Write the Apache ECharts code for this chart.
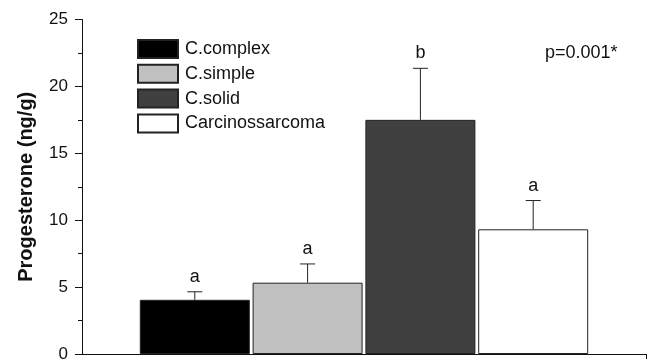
<!DOCTYPE html>
<html>
<head>
<meta charset="utf-8">
<script src="https://cdn.jsdelivr.net/npm/echarts@6/dist/echarts.min.js"></script>
<style>
    html, body { margin: 0; padding: 0; background: #fff; }
    #chart { width: 661px; height: 361px; }
</style>
</head>
<body>
<div id="chart"></div>
<script>
    // data
    var categories = ['C.complex', 'C.simple', 'C.solid', 'Carcinossarcoma'];
    var means = [4.05, 5.33, 17.5, 9.32];
    var errors = [0.6, 1.4, 3.85, 2.15];
    var letters = ['a', 'a', 'b', 'a'];
    var colors = ['#000000', '#c0c0c0', '#404040', '#ffffff'];
    var yTicks = [0, 5, 10, 15, 20, 25];
    var pText = 'p=0.001*';

    var FONT = "'Liberation Sans', Arial, sans-serif";

    var chart = echarts.init(document.getElementById('chart'));

    // one bar series per group so the legend gets an entry each
    var barSeries = categories.map(function (name, i) {
        return {
            name: name,
            type: 'bar',
            barWidth: 110,
            barGap: '-100%',
            data: [[i + 1, means[i]]],
            itemStyle: {
                color: colors[i],
                borderColor: '#222',
                borderWidth: 1
            },
            emphasis: { disabled: true }
        };
    });

    // error bars + significance letters
    var errSeries = {
        type: 'custom',
        data: means.map(function (m, i) { return [i + 1, m, errors[i]]; }),
        z: 5,
        renderItem: function (params, api) {
            var x = api.value(0);
            var m = api.value(1);
            var e = api.value(2);
            var base = api.coord([x, m]);
            var top = api.coord([x, m + e]);
            return {
                type: 'group',
                children: [
                    {
                        type: 'line',
                        shape: { x1: base[0], y1: base[1], x2: top[0], y2: top[1] },
                        style: { stroke: '#222', lineWidth: 1 }
                    },
                    {
                        type: 'line',
                        shape: { x1: top[0] - 7.5, y1: top[1], x2: top[0] + 7.5, y2: top[1] },
                        style: { stroke: '#222', lineWidth: 1 }
                    },
                    {
                        type: 'text',
                        x: top[0],
                        y: top[1] - 15,
                        style: {
                            text: letters[params.dataIndex],
                            fill: '#111',
                            font: '18px ' + FONT,
                            align: 'center',
                            verticalAlign: 'middle'
                        }
                    }
                ]
            };
        }
    };

    chart.setOption({
        animation: false,
        backgroundColor: '#fff',
        textStyle: { fontFamily: FONT, color: '#111' },
        grid: {
            left: 82,
            right: 15,
            top: 19.5,
            bottom: 7,
            outerBoundsMode: 'none',
            containLabel: false
        },
        legend: {
            data: categories,
            orient: 'vertical',
            left: 132,
            top: 34,
            icon: 'rect',
            itemWidth: 40,
            itemHeight: 18,
            itemGap: 4.8,
            selectedMode: false,
            textStyle: {
                fontFamily: FONT,
                fontSize: 18,
                color: '#111',
                padding: [0, 0, 0, 2]
            }
        },
        xAxis: {
            type: 'value',
            min: 0,
            max: 5,
            interval: 5,
            axisLine: { show: true, lineStyle: { color: '#111', width: 1 } },
            axisTick: {
                show: true,
                customValues: [5],
                length: 5,
                lineStyle: { color: '#111' }
            },
            axisLabel: { show: false },
            splitLine: { show: false }
        },
        yAxis: {
            type: 'value',
            min: yTicks[0],
            max: yTicks[yTicks.length - 1],
            interval: 5,
            name: 'Progesterone (ng/g)',
            nameLocation: 'middle',
            nameGap: 46,
            nameTextStyle: {
                fontFamily: FONT,
                fontSize: 20,
                fontWeight: 'bold',
                color: '#111'
            },
            axisLine: { show: true, lineStyle: { color: '#111', width: 1 } },
            axisTick: { show: true, length: 7, lineStyle: { color: '#111' } },
            minorTick: { show: true, splitNumber: 2, length: 4, lineStyle: { color: '#111' } },
            axisLabel: {
                fontFamily: FONT,
                fontSize: 17,
                color: '#111',
                margin: 14
            },
            splitLine: { show: false },
            minorSplitLine: { show: false }
        },
        graphic: [
            {
                type: 'text',
                left: 545,
                top: 44,
                style: {
                    text: pText,
                    fill: '#111',
                    font: '18px ' + FONT
                }
            }
        ],
        series: barSeries.concat([errSeries])
    });
</script>
</body>
</html>
